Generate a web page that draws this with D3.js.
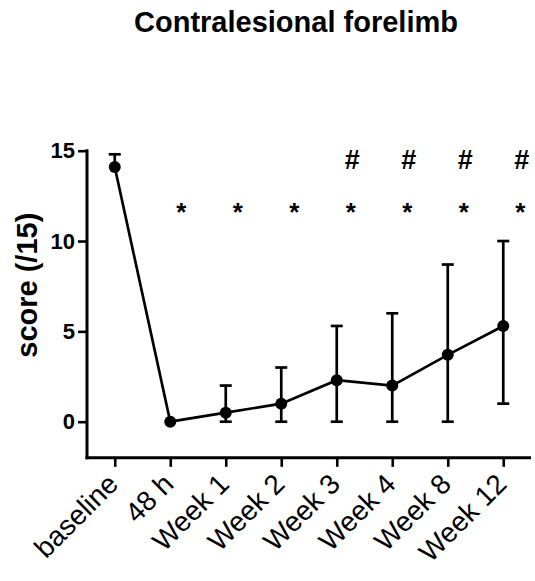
<!DOCTYPE html>
<html>
<head>
<meta charset="utf-8">
<script src="https://cdn.jsdelivr.net/npm/d3@7"></script>
<style>
  body { margin: 0; background: #fff; }
  svg { display: block; font-family: Arial, "Liberation Sans", sans-serif; }
</style>
</head>
<body>
<script>
// data
var timepoints = ['baseline', '48 h', 'Week 1', 'Week 2', 'Week 3', 'Week 4', 'Week 8', 'Week 12']
var scores = [14.1, 0, 0.5, 1.0, 2.3, 2.0, 3.7, 5.3]
var errLow = [14.1, 0, 0, 0, 0, 0, 0, 1.0]
var errHigh = [14.8, 0, 2.0, 3.0, 5.3, 6.0, 8.7, 10.0]
var starMarks = ['48 h', 'Week 1', 'Week 2', 'Week 3', 'Week 4', 'Week 8', 'Week 12']
var hashMarks = ['Week 3', 'Week 4', 'Week 8', 'Week 12']
var yTicks = [0, 5, 10, 15]

var rows = timepoints.map((t, i) => ({t, v: scores[i], lo: errLow[i], hi: errHigh[i]}))

var width = 535, height = 581
var svg = d3.select('body').append('svg').attr('width', width).attr('height', height)

var x = d3.scalePoint().domain(timepoints).range([87, 531]).padding(0.5)
var y = d3.scaleLinear().domain([0, 15]).range([421.7, 150.7])
var yBottom = y(-2)

// annotation offsets drift slightly to the right of each tick
var annX = (d) => x(d) + 11 + starMarks.indexOf(d)

svg.append('text')
  .attr('x', 296).attr('y', 32)
  .attr('text-anchor', 'middle')
  .style('font-weight', 'bold').style('font-size', '29px')
  .text('Contralesional forelimb')

// y axis
var yAxis = d3.axisLeft(y).tickValues(yTicks).tickSize(9).tickPadding(3)
var gy = svg.append('g').attr('transform', 'translate(87,0)').call(yAxis)
gy.select('.domain').remove()
gy.append('line').attr('y1', y(15) - 1.5).attr('y2', yBottom + 1.5).attr('stroke', '#000').attr('stroke-width', 3)
gy.selectAll('.tick line').attr('stroke-width', 2.6)
gy.selectAll('.tick text').style('font-size', '22px').style('font-weight', 'bold').attr('fill', '#000')
  .attr('font-family', null)

svg.append('text')
  .attr('transform', `translate(37,${y(7.5) - 1}) rotate(-90)`)
  .attr('text-anchor', 'middle')
  .style('font-weight', 'bold').style('font-size', '29px')
  .text('score (/15)')

// x axis
var xAxis = d3.axisBottom(x).tickSize(9).tickFormat('')
var gx = svg.append('g').attr('transform', `translate(0,${yBottom})`).call(xAxis)
gx.select('.domain').remove()
gx.append('line').attr('x1', 87 - 1.5).attr('x2', 531).attr('stroke', '#000').attr('stroke-width', 3)
gx.selectAll('.tick line').attr('stroke-width', 2.6)

svg.append('g').selectAll('text').data(timepoints).join('text')
  .attr('transform', d => `translate(${x(d) + 5},${yBottom + 28}) rotate(-45)`)
  .attr('text-anchor', 'end')
  .style('font-size', '28px')
  .text(d => d)

// error bars
var eb = svg.append('g').attr('stroke', '#000').attr('stroke-width', 2.7)
  .selectAll('g').data(rows.filter(d => d.hi > d.lo)).join('g')
eb.append('line').attr('x1', d => x(d.t)).attr('x2', d => x(d.t)).attr('y1', d => y(d.lo)).attr('y2', d => y(d.hi))
eb.append('line').attr('x1', d => x(d.t) - 6).attr('x2', d => x(d.t) + 6).attr('y1', d => y(d.hi)).attr('y2', d => y(d.hi))
eb.filter(d => d.lo < d.v).append('line')
  .attr('x1', d => x(d.t) - 6).attr('x2', d => x(d.t) + 6).attr('y1', d => y(d.lo)).attr('y2', d => y(d.lo))

// mean line and points
var line = d3.line().x(d => x(d.t)).y(d => y(d.v))
svg.append('path').datum(rows)
  .attr('d', line).attr('fill', 'none').attr('stroke', '#000').attr('stroke-width', 2.7)
svg.append('g').selectAll('circle').data(rows).join('circle')
  .attr('cx', d => x(d.t)).attr('cy', d => y(d.v)).attr('r', 6).attr('fill', '#000')

// significance marks
svg.append('g').selectAll('text').data(starMarks).join('text')
  .attr('x', d => annX(d)).attr('y', 221)
  .attr('text-anchor', 'middle')
  .style('font-size', '26px').style('font-weight', 'bold')
  .text('*')

svg.append('g').selectAll('text').data(hashMarks).join('text')
  .attr('x', d => annX(d) + 1.5).attr('y', 169)
  .attr('text-anchor', 'middle')
  .style('font-size', '27px').style('font-weight', 'bold')
  .text('#')
</script>
</body>
</html>
